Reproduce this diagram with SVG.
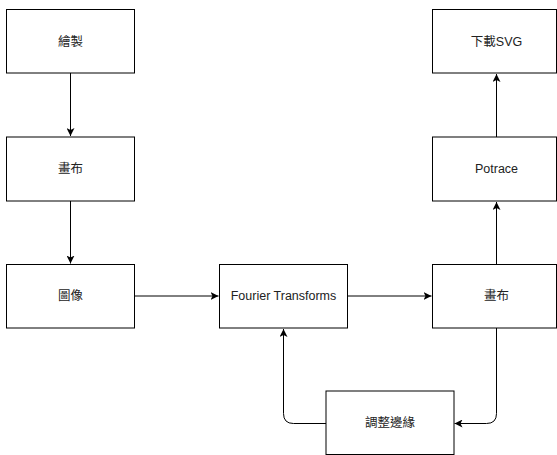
<svg xmlns="http://www.w3.org/2000/svg" width="557" height="455" viewBox="0 0 557 455">
<defs>
<style>
.box{fill:#fff;stroke:#000;stroke-width:1}
.lbl{font-family:"Liberation Sans","Noto Sans CJK TC",Arial,sans-serif;font-size:12.5px;fill:#222;text-anchor:middle;dominant-baseline:central}
.edge{fill:none;stroke:#000;stroke-width:1}
</style>
<marker id="arr" viewBox="0 0 10 10" refX="10" refY="5" markerWidth="8" markerHeight="8" markerUnits="userSpaceOnUse" orient="auto">
<path d="M0,0 L10,5 L0,10 L2.5,5 Z" fill="#000"/>
</marker>
</defs>
<rect width="557" height="455" fill="#fff"/>
<g id="connectors">
<path class="edge" d="M70.5,73 V136" marker-end="url(#arr)"/>
<path class="edge" d="M70.5,201 V263.5" marker-end="url(#arr)"/>
<path class="edge" d="M134.5,296 H218.5" marker-end="url(#arr)"/>
<path class="edge" d="M347.5,296 H431.5" marker-end="url(#arr)"/>
<path class="edge" d="M496.5,264.5 V202" marker-end="url(#arr)"/>
<path class="edge" d="M496.5,137 V74" marker-end="url(#arr)"/>
<path class="edge" d="M496.5,328 V413.5 Q496.5,423.5 486.5,423.5 H454.5" marker-end="url(#arr)"/>
<path class="edge" d="M326,423.5 H293.5 Q283.5,423.5 283.5,413.5 V329" marker-end="url(#arr)"/>
</g>
<g id="n-draw"><rect class="box" x="6.5" y="9.5" width="128" height="63.5"/><text class="lbl" x="70.5" y="41.5">繪製</text></g>
<g id="n-canvas1"><rect class="box" x="6.5" y="137" width="128" height="64"/><text class="lbl" x="70.5" y="169">畫布</text></g>
<g id="n-image"><rect class="box" x="6.5" y="264.5" width="128" height="63.5"/><text class="lbl" x="70.5" y="296">圖像</text></g>
<g id="n-fourier"><rect class="box" x="219.5" y="264.5" width="128" height="63.5"/><text class="lbl" x="283.5" y="296">Fourier Transforms</text></g>
<g id="n-canvas2"><rect class="box" x="432.5" y="264.5" width="124" height="63.5"/><text class="lbl" x="496.5" y="296">畫布</text></g>
<g id="n-potrace"><rect class="box" x="432.5" y="137" width="124" height="64"/><text class="lbl" x="496.5" y="169">Potrace</text></g>
<g id="n-download"><rect class="box" x="432.5" y="9.5" width="124" height="63.5"/><text class="lbl" x="496.5" y="41.5">下載SVG</text></g>
<g id="n-edge"><rect class="box" x="326" y="391" width="128" height="63.5"/><text class="lbl" x="390" y="423">調整邊緣</text></g>
</svg>
